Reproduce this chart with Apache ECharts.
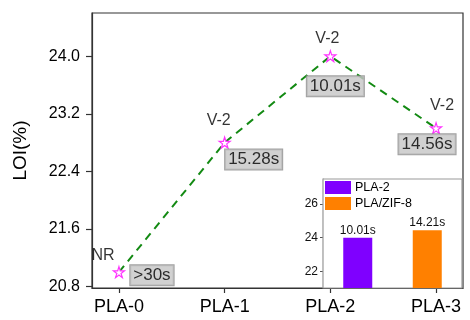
<!DOCTYPE html>
<html>
<head>
<meta charset="utf-8">
<script src="https://cdn.jsdelivr.net/npm/echarts@6/dist/echarts.min.js"></script>
<style>html,body{margin:0;padding:0;background:#fff;}#c{width:470px;height:320px;}</style>
</head>
<body>
<div id="c"></div>
<script>
// ---- data ----
const categories = ['PLA-0', 'PLA-1', 'PLA-2', 'PLA-3'];
const loiValues = [21.0, 22.8, 24.0, 23.0];
const ratingLabels = ['NR', 'V-2', 'V-2', 'V-2'];
const timeLabels = ['>30s', '15.28s', '10.01s', '14.56s'];
const yTicks = [20.8, 21.6, 22.4, 23.2, 24.0];

const insetCategories = ['PLA-2', 'PLA/ZIF-8'];
const insetValues = [24.0, 24.45];
const insetLabels = ['10.01s', '14.21s'];
const insetTicks = [22, 24, 26];

// ---- layout (positions only) ----
const ratingOffsets = [[-16, -17], [-6, -22], [-3, -18], [6, -23]];
const boxOffsets = [[33, 3], [29, 17], [5, 30], [-9, 16]];

const FONT = '"Liberation Sans", Arial, sans-serif';
const starPath = 'path://M50 0 L61.17 34.63 L97.55 34.55 L68.07 55.87 L79.39 90.45 L50 69 L20.61 90.45 L31.93 55.87 L2.45 34.55 L38.83 34.63 Z';

const pts = loiValues.map((v, i) => [i, v]);

const chart = echarts.init(document.getElementById('c'), null, {renderer: 'canvas'});
chart.setOption({
  animation: false,
  backgroundColor: '#fff',
  textStyle: {fontFamily: FONT},
  grid: [
    {left: 92, top: 13, right: 7, bottom: 32, show: true, borderColor: '#333', borderWidth: 1.2, backgroundColor: 'transparent'},
    {left: 323, top: 179, width: 139, height: 109, show: true, borderColor: '#9a9a9a', borderWidth: 1.2, backgroundColor: '#fff', z: 10}
  ],
  legend: {
    show: true,
    data: insetCategories,
    orient: 'vertical',
    left: 325, top: 181,
    itemWidth: 26, itemHeight: 13, itemGap: 3,
    icon: 'rect',
    padding: 0,
    z: 20,
    textStyle: {fontFamily: FONT, fontSize: 12.5, color: '#000', padding: [0, 0, 0, -1]}
  },
  xAxis: [
    {
      type: 'value', gridIndex: 0, min: -0.255, max: 3.255,
      splitLine: {show: false},
      axisLine: {show: true, onZero: false, lineStyle: {color: '#333', width: 1.2}},
      axisTick: {show: true, length: 5, customValues: [0, 1, 2, 3], lineStyle: {color: '#333', width: 1.2}},
      axisLabel: {customValues: [0, 1, 2, 3], margin: 10, fontSize: 18, color: '#000', fontFamily: FONT,
        formatter: v => categories[Math.round(v)]}
    },
    {
      type: 'category', gridIndex: 1, data: insetCategories, boundaryGap: true,
      axisLine: {show: false}, axisTick: {show: false}, axisLabel: {show: false}, splitLine: {show: false}
    }
  ],
  yAxis: [
    {
      type: 'value', gridIndex: 0, min: 20.78, max: 24.6,
      name: 'LOI(%)', nameLocation: 'middle', nameGap: 62, nameRotate: 90,
      nameTextStyle: {fontSize: 19, color: '#000', fontFamily: FONT},
      splitLine: {show: false},
      axisLine: {show: true, onZero: false, lineStyle: {color: '#333', width: 1.2}},
      axisTick: {show: true, length: 6, customValues: yTicks, lineStyle: {color: '#333', width: 1.2}},
      axisLabel: {customValues: yTicks, margin: 12, fontSize: 16, color: '#000', fontFamily: FONT,
        formatter: v => v.toFixed(1)}
    },
    {
      type: 'value', gridIndex: 1, min: 21, max: 27.5,
      splitLine: {show: false},
      axisLine: {show: true, onZero: false, lineStyle: {color: '#9a9a9a', width: 1.2}},
      axisTick: {show: true, length: 3, customValues: insetTicks, lineStyle: {color: '#555'}},
      axisLabel: {customValues: insetTicks, margin: 5, fontSize: 12, color: '#111', fontFamily: FONT}
    }
  ],
  series: [
    {
      type: 'line', xAxisIndex: 0, yAxisIndex: 0,
      data: pts,
      symbol: starPath, symbolSize: 11,
      lineStyle: {color: '#138a13', width: 2, type: [8, 6]},
      itemStyle: {color: '#fff', borderColor: '#ff33ff', borderWidth: 1.2},
      z: 3
    },
    {
      type: 'scatter', xAxisIndex: 0, yAxisIndex: 0, silent: true,
      symbolSize: 0,
      data: pts.map((p, i) => ({value: p, label: {offset: ratingOffsets[i]}})),
      label: {show: true, position: 'inside', align: 'center', verticalAlign: 'middle',
        fontSize: 16, color: '#000', fontFamily: FONT,
        formatter: p => ratingLabels[p.dataIndex]},
      z: 4
    },
    {
      type: 'scatter', xAxisIndex: 0, yAxisIndex: 0, silent: true,
      symbolSize: 0,
      data: pts.map((p, i) => ({value: p, label: {offset: boxOffsets[i]}})),
      label: {show: true, position: 'inside', align: 'center', verticalAlign: 'middle',
        fontSize: 17, lineHeight: 17, color: '#000', fontFamily: FONT,
        backgroundColor: '#c6c6c6', borderColor: '#8a8a8a', borderWidth: 1, padding: [2, 3, 1, 3],
        formatter: p => timeLabels[p.dataIndex]},
      z: 4
    },
    {
      name: insetCategories[0], type: 'bar', xAxisIndex: 1, yAxisIndex: 1,
      data: [insetValues[0], '-'], barWidth: 29, barGap: '-100%',
      itemStyle: {color: '#7f00ff'}, z: 12,
      label: {show: true, position: 'top', distance: 1, fontSize: 12, color: '#111', fontFamily: FONT,
        formatter: () => insetLabels[0]}
    },
    {
      name: insetCategories[1], type: 'bar', xAxisIndex: 1, yAxisIndex: 1,
      data: ['-', insetValues[1]], barWidth: 29, barGap: '-100%',
      itemStyle: {color: '#ff8000'}, z: 12,
      label: {show: true, position: 'top', distance: 1, fontSize: 12, color: '#111', fontFamily: FONT,
        formatter: () => insetLabels[1]}
    }
  ]
});
</script>
</body>
</html>
